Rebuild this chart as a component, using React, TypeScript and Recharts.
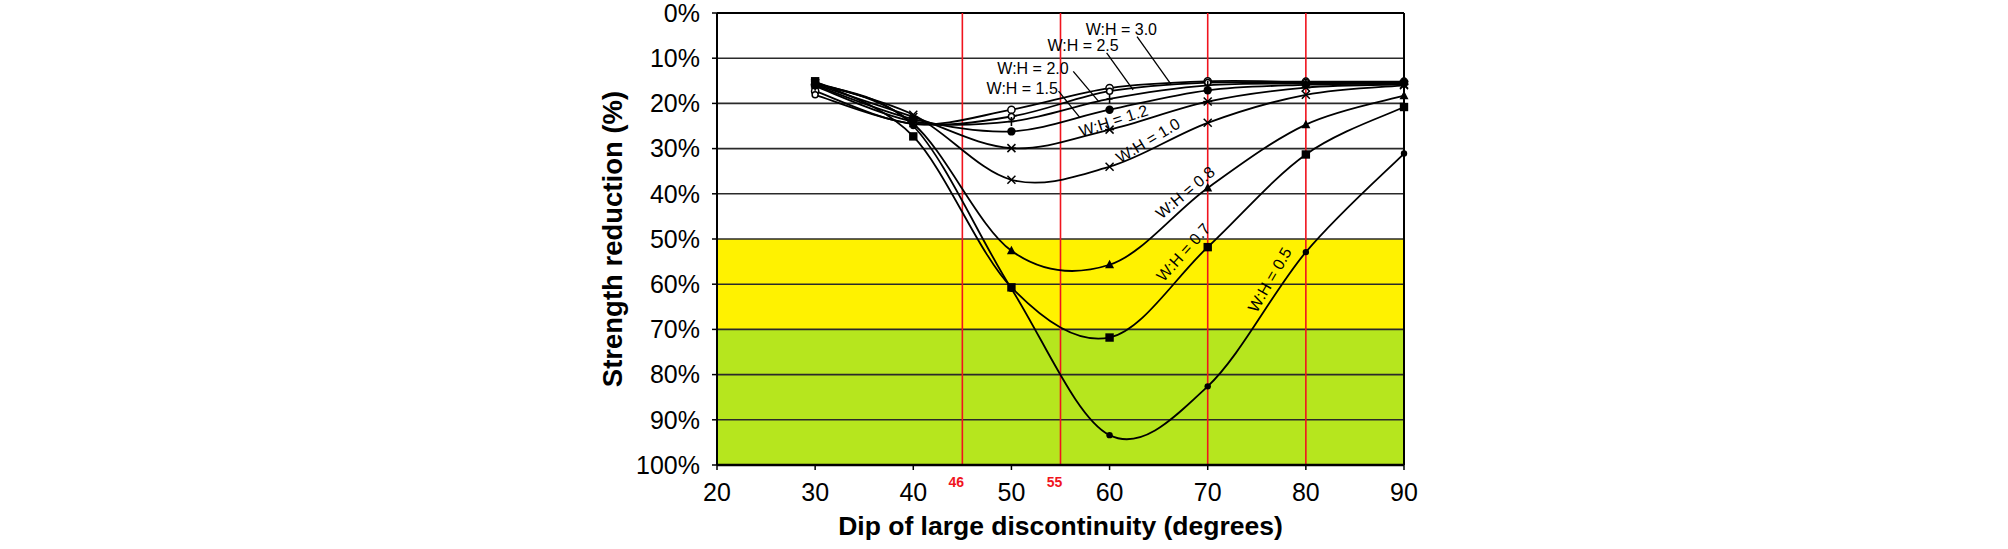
import React from 'react';
import { LineChart, Line, XAxis, YAxis, ReferenceArea, ReferenceLine, ReferenceDot } from 'recharts';

// Dip angles (degrees)
const dips = [30, 40, 50, 60, 70, 80, 90];
// Strength reduction (%) per W:H ratio
const wh30 = [17.3, 24.5, 21.4, 16.6, 15.1, 15.2, 15.2];
const wh25 = [18.1, 24.5, 22.9, 17.3, 15.4, 15.4, 15.3];
const wh20 = [16.2, 24.0, 24.0, 19.0, 16.0, 15.6, 15.5];
const wh15 = [16.0, 23.5, 26.2, 21.4, 17.1, 15.9, 15.6];
const wh12 = [15.8, 23.0, 29.9, 25.8, 19.6, 16.5, 15.8];
const wh10 = [15.5, 22.5, 36.9, 34.0, 24.3, 18.1, 16.0];
const wh08 = [15.3, 24.5, 52.6, 55.7, 38.7, 24.7, 18.3];
const wh07 = [15.1, 27.3, 60.7, 71.8, 51.8, 31.3, 20.8];
const wh05 = [15.5, 25.0, 61.0, 93.4, 82.6, 52.9, 31.1];

const xTicks = [20, 30, 40, 50, 60, 70, 80, 90];
const yTicks = [0, 10, 20, 30, 40, 50, 60, 70, 80, 90, 100];
const redLines = [45, 55, 70, 80];
const redLabels = ['46', '55', '', ''];

// series labels (data coordinates)
const labelText = ['W:H = 3.0', 'W:H = 2.5', 'W:H = 2.0', 'W:H = 1.5', 'W:H = 1.2', 'W:H = 1.0', 'W:H = 0.8', 'W:H = 0.7', 'W:H = 0.5'];
const labelX = [61.2, 57.3, 52.2, 51.1, 60.4, 63.9, 67.7, 67.5, 76.3];
const labelY = [3.5, 7.2, 12.3, 16.6, 23.8, 28.2, 39.7, 52.9, 59.0];
const labelAngle = [0, 0, 0, 0, -18, -31, -40, -48, -60];
// leader lines [x1, y1, x2, y2]
const leaders = [
  [62.8, 5.2, 66.3, 15.9],
  [59.7, 8.8, 62.4, 17.0],
  [56.3, 12.9, 58.9, 19.6],
  [54.8, 17.3, 57.0, 23.2],
];

const seriesKeys = ['wh30', 'wh25', 'wh20', 'wh15', 'wh12', 'wh10', 'wh08', 'wh07', 'wh05'];
const seriesValues = [wh30, wh25, wh20, wh15, wh12, wh10, wh08, wh07, wh05];
const seriesMarkers = ['openCircle', 'openCircleSmall', 'plus', 'filledCircle', 'asterisk', 'cross', 'triangle', 'square', 'dot'];

const data = dips.map((d, i) => {
  const row: any = { dip: d };
  seriesKeys.forEach((k, j) => { row[k] = seriesValues[j][i]; });
  return row;
});

// Excel-like smoothed line (Catmull-Rom Bezier)
function excelCurve(context: any) {
  let pts: number[][] = [];
  return {
    areaStart() {},
    areaEnd() {},
    lineStart() { pts = []; },
    point(x: number, y: number) { pts.push([+x, +y]); },
    lineEnd() {
      const n = pts.length;
      if (!n) return;
      context.moveTo(pts[0][0], pts[0][1]);
      for (let i = 0; i < n - 1; i++) {
        const p0 = pts[i - 1] || pts[i];
        const p1 = pts[i];
        const p2 = pts[i + 1];
        const p3 = pts[i + 2] || p2;
        context.bezierCurveTo(
          p1[0] + (p2[0] - p0[0]) / 6, p1[1] + (p2[1] - p0[1]) / 6,
          p2[0] - (p3[0] - p1[0]) / 6, p2[1] - (p3[1] - p1[1]) / 6,
          p2[0], p2[1]
        );
      }
    },
  };
}

const FONT = 'Liberation Sans, Arial, sans-serif';

function Marker(props: any) {
  const { cx, cy, kind, index } = props;
  if (cx == null || cy == null) return <g key={index} />;
  const k = `m-${kind}-${index}`;
  switch (kind) {
    case 'openCircle':
      return <circle key={k} cx={cx} cy={cy} r={3.6} fill="#fff" stroke="#000" strokeWidth={1.5} />;
    case 'openCircleSmall':
      return <circle key={k} cx={cx} cy={cy} r={3} fill="#fff" stroke="#000" strokeWidth={1.5} />;
    case 'plus':
      return (
        <g key={k}>
          <line x1={cx} y1={cy - 4.5} x2={cx} y2={cy + 4.5} stroke="#000" strokeWidth={1.6} />
          <line x1={cx - 3} y1={cy} x2={cx + 3} y2={cy} stroke="#000" strokeWidth={1.6} />
        </g>
      );
    case 'filledCircle':
      return <circle key={k} cx={cx} cy={cy} r={4.2} fill="#000" />;
    case 'asterisk':
      return (
        <g key={k}>
          <line x1={cx - 4} y1={cy - 4} x2={cx + 4} y2={cy + 4} stroke="#000" strokeWidth={1.5} />
          <line x1={cx - 4} y1={cy + 4} x2={cx + 4} y2={cy - 4} stroke="#000" strokeWidth={1.5} />
          <line x1={cx - 4.5} y1={cy} x2={cx + 4.5} y2={cy} stroke="#000" strokeWidth={1.5} />
        </g>
      );
    case 'cross':
      return (
        <g key={k}>
          <line x1={cx - 4} y1={cy - 4} x2={cx + 4} y2={cy + 4} stroke="#000" strokeWidth={1.5} />
          <line x1={cx - 4} y1={cy + 4} x2={cx + 4} y2={cy - 4} stroke="#000" strokeWidth={1.5} />
        </g>
      );
    case 'triangle':
      return <polygon key={k} points={`${cx},${cy - 5} ${cx + 4.5},${cy + 3.5} ${cx - 4.5},${cy + 3.5}`} fill="#000" />;
    case 'square':
      return <rect key={k} x={cx - 4.2} y={cy - 4.2} width={8.4} height={8.4} fill="#000" />;
    default:
      return <circle key={k} cx={cx} cy={cy} r={3.2} fill="#000" />;
  }
}

export default function App() {
  return (
    <div style={{ width: 2008, height: 549 }}>
      <style>{`body{margin:0;background:#fff}`}</style>
      <LineChart
        width={2008}
        height={549}
        data={data}
        margin={{ top: 13, right: 604, bottom: 0, left: 507 }}
      >
        <ReferenceArea y1={50} y2={70} fill="#FFF200" fillOpacity={1} stroke="none" />
        <ReferenceArea y1={70} y2={100} fill="#B6E61E" fillOpacity={1} stroke="none" />
        {yTicks.map((t) => (
          <ReferenceLine
            key={`g${t}`}
            y={t}
            stroke={t === 0 ? '#000' : '#2a2a2a'}
            strokeWidth={t === 0 ? 2.2 : 1.6}
          />
        ))}
        <ReferenceLine x={90} stroke="#000" strokeWidth={2} />
        {redLines.map((r, i) => (
          <ReferenceLine
            key={`r${r}`}
            x={r}
            stroke="#F0141E"
            strokeWidth={1.6}
            label={redLabels[i] ? {
              value: redLabels[i],
              position: 'bottom',
              offset: 12,
              dx: -6,
              fill: '#F0141E',
              fontSize: 14,
              fontWeight: 'bold',
              fontFamily: FONT,
            } : undefined}
          />
        ))}
        <XAxis
          dataKey="dip"
          type="number"
          domain={[20, 90]}
          ticks={xTicks}
          interval={0}
          height={84}
          tickSize={5}
          tickMargin={13}
          axisLine={{ stroke: '#000', strokeWidth: 2.5 }}
          tickLine={{ stroke: '#000', strokeWidth: 1.5 }}
          tick={{ fontSize: 25, fill: '#000', fontFamily: FONT }}
          label={{
            value: 'Dip of large discontinuity (degrees)',
            position: 'insideBottom',
            offset: 14,
            fontSize: 26.5,
            fontWeight: 'bold',
            fill: '#000',
            fontFamily: FONT,
          }}
        />
        <YAxis
          type="number"
          reversed
          domain={[0, 100]}
          ticks={yTicks}
          interval={0}
          width={210}
          tickSize={5}
          tickMargin={12}
          tickFormatter={(v: number) => `${v}%`}
          axisLine={{ stroke: '#000', strokeWidth: 2 }}
          tickLine={{ stroke: '#000', strokeWidth: 1.5 }}
          tick={{ fontSize: 25, fill: '#000', fontFamily: FONT }}
          label={{
            value: 'Strength reduction (%)',
            position: 'center',
            angle: -90,
            fontSize: 27.5,
            fontWeight: 'bold',
            fill: '#000',
            fontFamily: FONT,
          }}
        />
        {seriesKeys.map((k, j) => (
          <Line
            key={k}
            dataKey={k}
            type={excelCurve as any}
            stroke="#000"
            strokeWidth={1.8}
            isAnimationActive={false}
            dot={(p: any) => <Marker {...p} kind={seriesMarkers[j]} />}
            activeDot={false}
          />
        ))}
        {leaders.map((l, i) => (
          <ReferenceLine
            key={`l${i}`}
            segment={[{ x: l[0], y: l[1] }, { x: l[2], y: l[3] }]}
            stroke="#000"
            strokeWidth={1.3}
          />
        ))}
        {labelText.map((t, i) => (
          <ReferenceDot
            key={`t${i}`}
            x={labelX[i]}
            y={labelY[i]}
            r={1}
            fill="none"
            stroke="none"
            label={{
              value: t,
              position: 'center',
              angle: labelAngle[i],
              fontSize: 16,
              fill: '#000',
              fontFamily: FONT,
            }}
          />
        ))}
      </LineChart>
    </div>
  );
}
